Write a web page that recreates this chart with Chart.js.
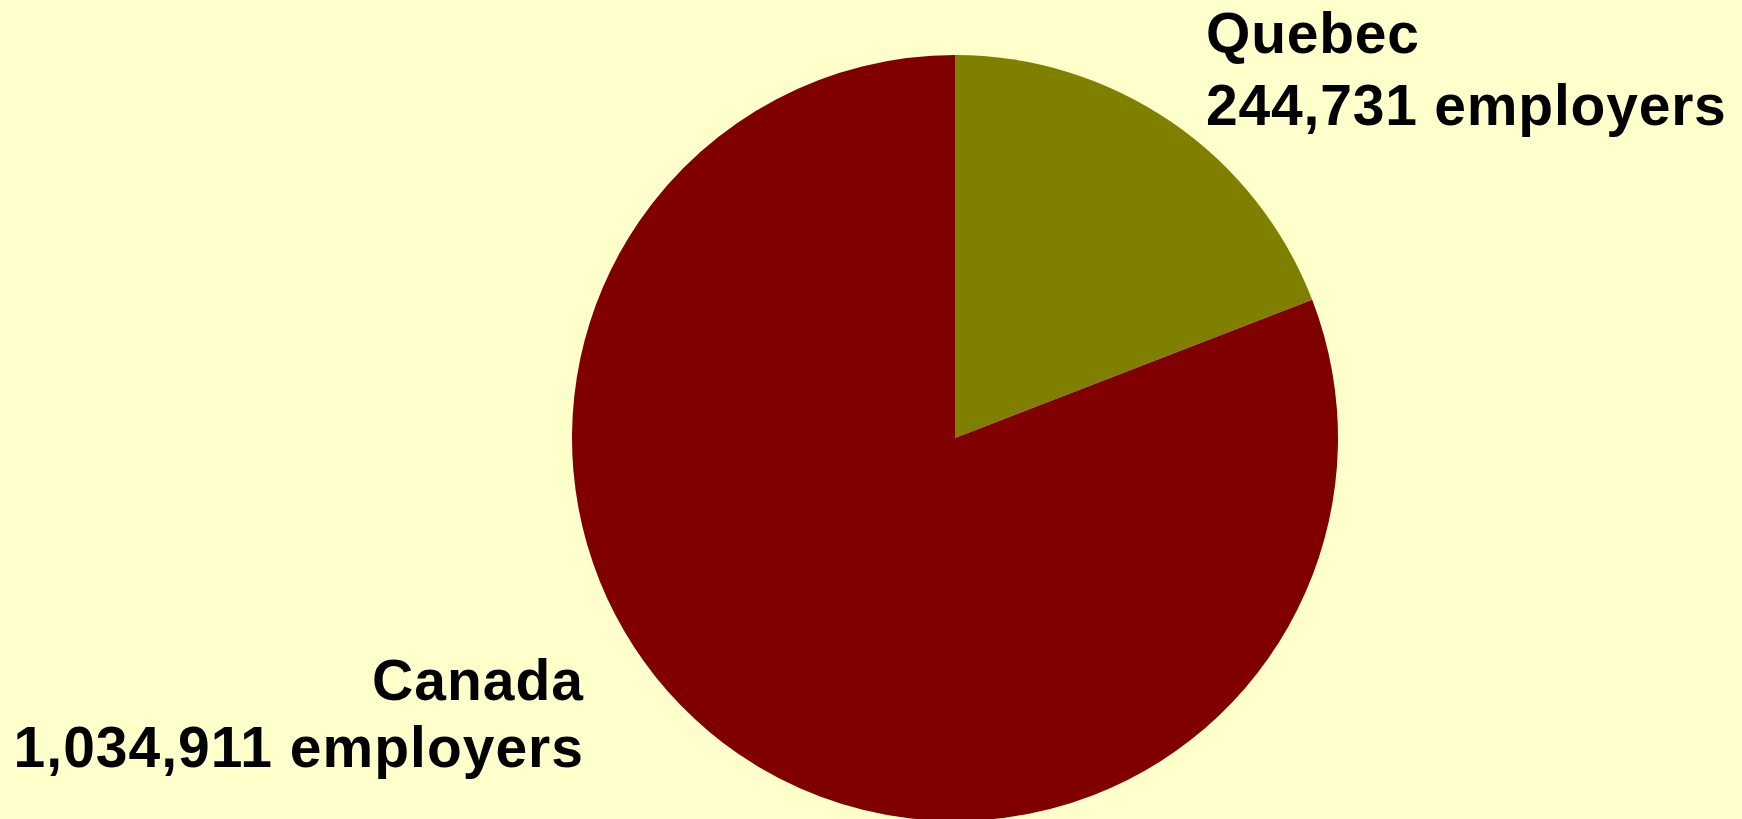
<!DOCTYPE html>
<html>
<head>
<meta charset="utf-8">
<title>Employers: Quebec and Canada</title>
<script src="https://cdn.jsdelivr.net/npm/chart.js@4/dist/chart.umd.min.js"></script>
<style>
  html, body { margin: 0; padding: 0; background: #FFFFCC; overflow: hidden; }
  #chart { display: block; }
</style>
</head>
<body>
<canvas id="chart" width="1742" height="840"></canvas>
<script>
  // data
  const regions = ['Quebec', 'Canada'];
  const employers = [244731, 1034911];
  const sliceColors = ['#808000', '#800000'];

  // two line labels: name, then count
  function labelLines(i) {
    return [regions[i], employers[i].toLocaleString('en-US') + ' employers'];
  }

  // draws the labels next to the pie, placed from its centre
  const sliceLabels = {
    id: 'sliceLabels',
    afterDraw(chart) {
      const arc = chart.getDatasetMeta(0).data[0];
      if (!arc) return;
      const c = chart.ctx;
      const cx = arc.x, cy = arc.y;
      c.save();
      c.fillStyle = '#000000';
      c.font = 'bold 57px "Liberation Sans", Arial, sans-serif';
      c.textBaseline = 'alphabetic';

      // Quebec: top right
      c.letterSpacing = '0.8px';
      c.textAlign = 'left';
      const q = labelLines(0);
      c.fillText(q[0], cx + 251, cy - 385);
      c.fillText(q[1], cx + 251, cy - 313);

      // Canada: bottom left, right aligned
      c.letterSpacing = '1px';
      c.textAlign = 'right';
      const k = labelLines(1);
      c.fillText(k[0], cx - 371, cy + 262);
      c.fillText(k[1], cx - 371, cy + 329);
      c.restore();
    }
  };

  new Chart(document.getElementById('chart'), {
    type: 'pie',
    data: {
      labels: regions,
      datasets: [{
        data: employers,
        backgroundColor: sliceColors,
        borderWidth: 0
      }]
    },
    options: {
      responsive: false,
      animation: false,
      layout: { padding: { left: 572, right: 404, top: 55, bottom: 19 } },
      plugins: {
        legend: { display: false },
        tooltip: { enabled: false }
      }
    },
    plugins: [sliceLabels]
  });
</script>
</body>
</html>
